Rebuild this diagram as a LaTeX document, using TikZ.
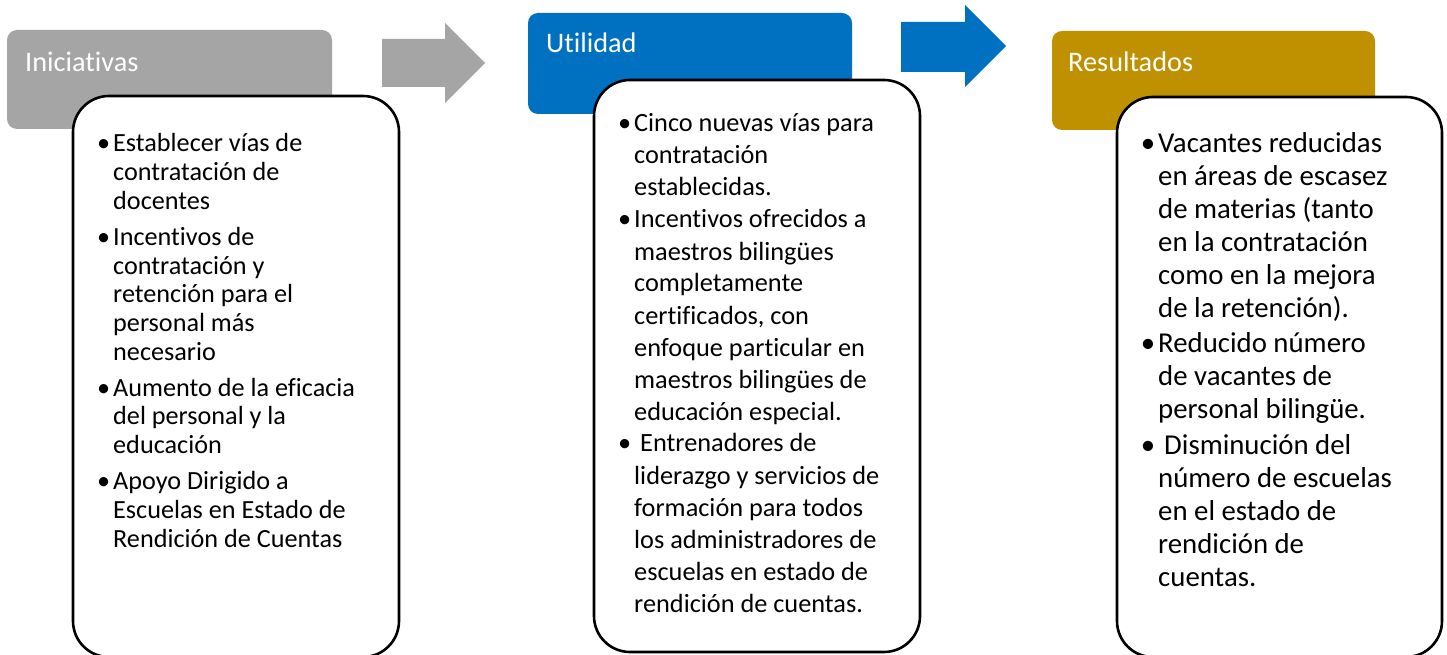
\documentclass[tikz,border=0pt]{standalone}
\usepackage{fontspec}
\setmainfont{Carlito}[Ligatures={NoCommon,NoContextual}]
\definecolor{hgray}{HTML}{A5A5A5}
\definecolor{hblue}{HTML}{0070C0}
\definecolor{hgold}{HTML}{BF9000}
\newcommand{\bul}{\llap{•\hspace{3pt}}}
\begin{document}
\begin{tikzpicture}[x=1pt,y=-1pt,
  header/.style={rounded corners=10pt, inner sep=0pt},
  htext/.style={anchor=base west, inner sep=0pt, text=white, font=\fontsize{28.3}{34}\selectfont},
  cbox/.style={draw=black, line width=2.6pt, fill=white, rounded corners=36pt, inner sep=0pt},
  btext/.style={anchor=base west, inner sep=0pt, align=left}
]
\useasboundingbox (0,0) rectangle (1447,655);
\fill[white] (0,0) rectangle (1447,655);

% headers
\path[header, fill=hgray] (7,30) rectangle (332,129);
\node[htext] (h1) at (25,72) {Iniciativas};
\path[header, fill=hblue] (528,13) rectangle (852,114);
\node[htext] (h2) at (546,53) {Utilidad};
\path[header, fill=hgold] (1052,31) rectangle (1375,130);
\node[htext] (h3) at (1068,72) {Resultados};

% arrows
\fill[hgray] (382,39) -- (445,39) -- (445,23) -- (485,63) -- (445,103) -- (445,87) -- (382,87) -- cycle;
\fill[hblue] (901,22) -- (965,22) -- (965,5) -- (1006,46) -- (965,87) -- (965,72) -- (901,72) -- cycle;

% content boxes
\draw[cbox] (73,96) rectangle (399,657);
\draw[cbox] (594,80) rectangle (920,652);
\draw[cbox] (1117,97) rectangle (1442,657);

% texts
\node[btext] (b1) at (113,152) {\fontsize{26.2}{28.7}\selectfont
\begin{tabular}[t]{@{}l@{}}
\bul Establecer vías de\\
contratación de\\
docentes\\[7.3pt]
\bul Incentivos de\\
contratación y\\
retención para el\\
personal más\\
necesario\\[7.3pt]
\bul Aumento de la eficacia\\
del personal y la\\
educación\\[7.3pt]
\bul Apoyo Dirigido a\\
Escuelas en Estado de\\
Rendición de Cuentas
\end{tabular}};

\node[btext] (b2) at (634,132) {\fontsize{26.3}{32}\selectfont
\begin{tabular}[t]{@{}l@{}}
\bul Cinco nuevas vías para\\
contratación\\
establecidas.\\
\bul Incentivos ofrecidos a\\
maestros bilingües\\
completamente\\
certificados, con\\
enfoque particular en\\
maestros bilingües de\\
educación especial.\\
\bul\hspace{6pt}Entrenadores de\\
liderazgo y servicios de\\
formación para todos\\
los administradores de\\
escuelas en estado de\\
rendición de cuentas.
\end{tabular}};

\node[btext] (b3) at (1158,153) {\fontsize{28.8}{33}\selectfont
\begin{tabular}[t]{@{}l@{}}
\bul Vacantes reducidas\\
en áreas de escasez\\
de materias (tanto\\
en la contratación\\
como en la mejora\\
de la retención).\\[1.5pt]
\bul Reducido número\\
de vacantes de\\
personal bilingüe.\\[3pt]
\bul\hspace{6pt}Disminución del\\
número de escuelas\\
en el estado de\\
rendición de\\
cuentas.
\end{tabular}};
\end{tikzpicture}
\end{document}
